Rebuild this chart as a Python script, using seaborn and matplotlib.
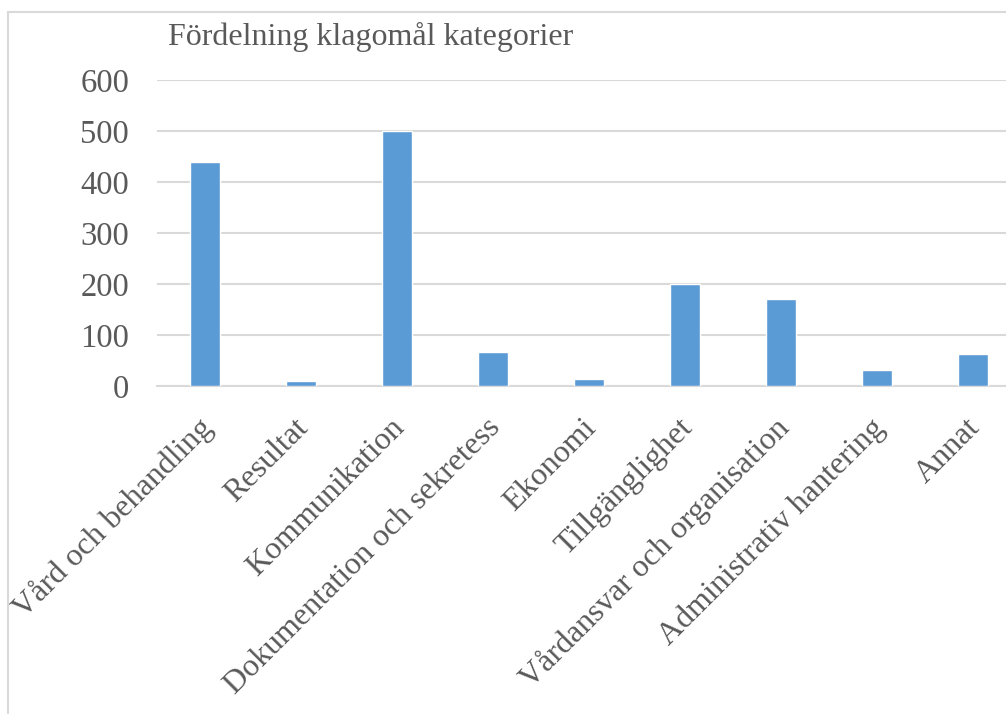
import matplotlib
matplotlib.use("Agg")
import matplotlib.pyplot as plt
import matplotlib.transforms as mtransforms
import seaborn as sns
import pandas as pd
from matplotlib.lines import Line2D

categories = ["Vård och behandling", "Resultat", "Kommunikation",
              "Dokumentation och sekretess", "Ekonomi", "Tillgänglighet",
              "Vårdansvar och organisation", "Administrativ hantering", "Annat"]
values = [440, 9, 500, 67, 13, 200, 170, 31, 63]
yticks = [0, 100, 200, 300, 400, 500, 600]
title = "Fördelning klagomål kategorier"

sns.set_style("white")
plt.rcParams['font.family'] = ['Liberation Serif', 'DejaVu Serif']

W, H = 1006, 714
fig = plt.figure(figsize=(W / 100, H / 100), dpi=100)
ax = fig.add_axes([157 / W, 1 - 386 / H, 864 / W, (386 - 80) / H])

df = pd.DataFrame({"cat": categories, "val": values})
sns.barplot(data=df, x="cat", y="val", color="#5B9BD5", width=0.31,
            saturation=1, ax=ax, zorder=3)

ax.set_ylim(0, 600)
ax.set_xlim(-0.5, len(categories) - 0.5)
ax.set_yticks(yticks)
ax.set_yticklabels([str(t) for t in yticks])
ax.yaxis.grid(True, color="#D9D9D9", linewidth=1.5, zorder=0)
ax.set_axisbelow(True)
for s in ["top", "right", "left"]:
    ax.spines[s].set_visible(False)
ax.spines["bottom"].set_color("#D9D9D9")
ax.spines["bottom"].set_linewidth(1.5)
ax.set_xlabel("")
ax.set_ylabel("")
ax.tick_params(axis="y", length=0, pad=20, labelsize=23.5, labelcolor="#595959")
ax.tick_params(axis="x", length=0, pad=16, labelsize=23, labelcolor="#595959")
offset = mtransforms.ScaledTranslation(-7 / 100, -5 / 100, fig.dpi_scale_trans)
for lab in ax.get_xticklabels():
    lab.set_rotation(45)
    lab.set_ha("right")
    lab.set_va("top")
    lab.set_rotation_mode("anchor")
    lab.set_transform(lab.get_transform() + offset)

fig.text(168 / W, 1 - 45 / H, title, fontsize=23, color="#595959",
         ha="left", va="baseline")

# chart frame
fig.add_artist(Line2D([7.5 / W, 7.5 / W], [0, 1 - 12 / H], color="#D9D9D9",
                      linewidth=1.5, transform=fig.transFigure))
fig.add_artist(Line2D([7.5 / W, 1], [1 - 12 / H, 1 - 12 / H], color="#D9D9D9",
                      linewidth=1.5, transform=fig.transFigure))

fig.savefig("out.png", dpi=100, facecolor="white")
